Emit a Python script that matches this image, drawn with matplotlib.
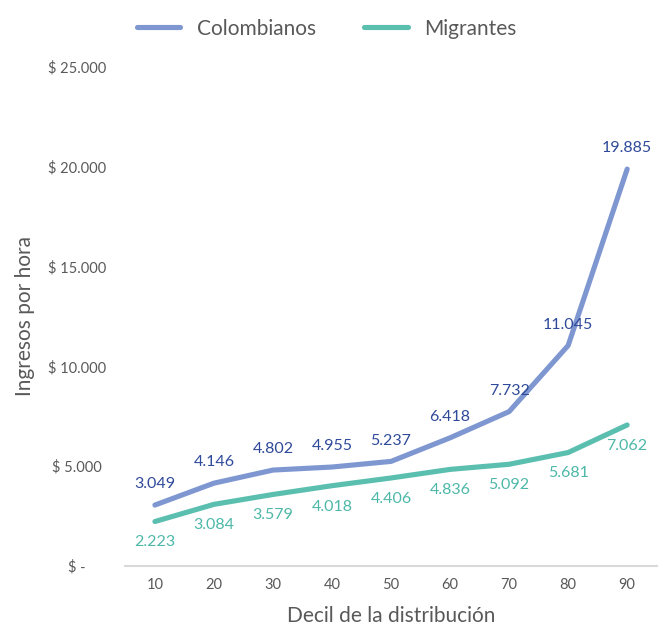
import matplotlib.pyplot as plt
import numpy as np

# 	Data

deciles = ["10", "20", "30", "40", "50", "60", "70", "80", "90"]
colombianos = [3049, 4146, 4802, 4955, 5237, 6418, 7732, 11045, 19885]
migrantes = [2223, 3084, 3579, 4018, 4406, 4836, 5092, 5681, 7062]
yticks = [0, 5000, 10000, 15000, 20000, 25000]
ytick_labels = ["$ -", "$ 5.000", "$ 10.000", "$ 15.000", "$ 20.000", "$ 25.000"]

def fmt(v):
    return f"{v:,}".replace(",", ".")

#	Plot

plt.rcParams['font.family'] = ['Lato', 'DejaVu Sans']

col_line = "#7F97D1"
mig_line = "#5BBFAF"
col_text = "#2F4A9A"
mig_text = "#4DB8A8"
gray = "#595959"

fig = plt.figure(figsize=(6.6, 6.26), dpi=100)
ax = fig.add_axes([0.19, 0.096, 0.805, 0.797])

x = np.arange(1, len(deciles) + 1)
ax.plot(x, colombianos, color=col_line, linewidth=3.7, label="Colombianos", solid_capstyle="round")
ax.plot(x, migrantes, color=mig_line, linewidth=3.7, label="Migrantes", solid_capstyle="round")

for xi, v in zip(x, colombianos):
    ax.annotate(fmt(v), (xi, v), xytext=(0, 10), textcoords="offset points",
                ha="center", va="bottom", color=col_text, fontsize=11.5)
for xi, v in zip(x, migrantes):
    ax.annotate(fmt(v), (xi, v), xytext=(0, -10), textcoords="offset points",
                ha="center", va="top", color=mig_text, fontsize=11.5)

ax.set_xlim(0.5, len(deciles) + 0.5)
ax.set_ylim(0, 25000)
ax.set_xticks(x)
ax.set_xticklabels(deciles)
ax.set_yticks(yticks)
ax.set_yticklabels(ytick_labels)
ax.tick_params(length=0, colors=gray, labelsize=10.5)
ax.tick_params(axis="x", pad=9)
ax.tick_params(axis="y", pad=35)
for t in ax.get_yticklabels():
    t.set_horizontalalignment("center")
for s in ["top", "right", "left"]:
    ax.spines[s].set_visible(False)
ax.spines["bottom"].set_color("#D9D9D9")
ax.spines["bottom"].set_linewidth(1.5)

ax.set_xlabel("Decil de la distribución", fontsize=15, color=gray, labelpad=10)
ax.set_ylabel("Ingresos por hora", fontsize=15, color=gray, labelpad=9)

leg = fig.legend(loc="upper center", bbox_to_anchor=(0.495, 1.0), ncol=2, frameon=False,
                 fontsize=15, handlelength=2.1, columnspacing=2.3, labelcolor=gray)

plt.savefig("out.png", dpi=100)
